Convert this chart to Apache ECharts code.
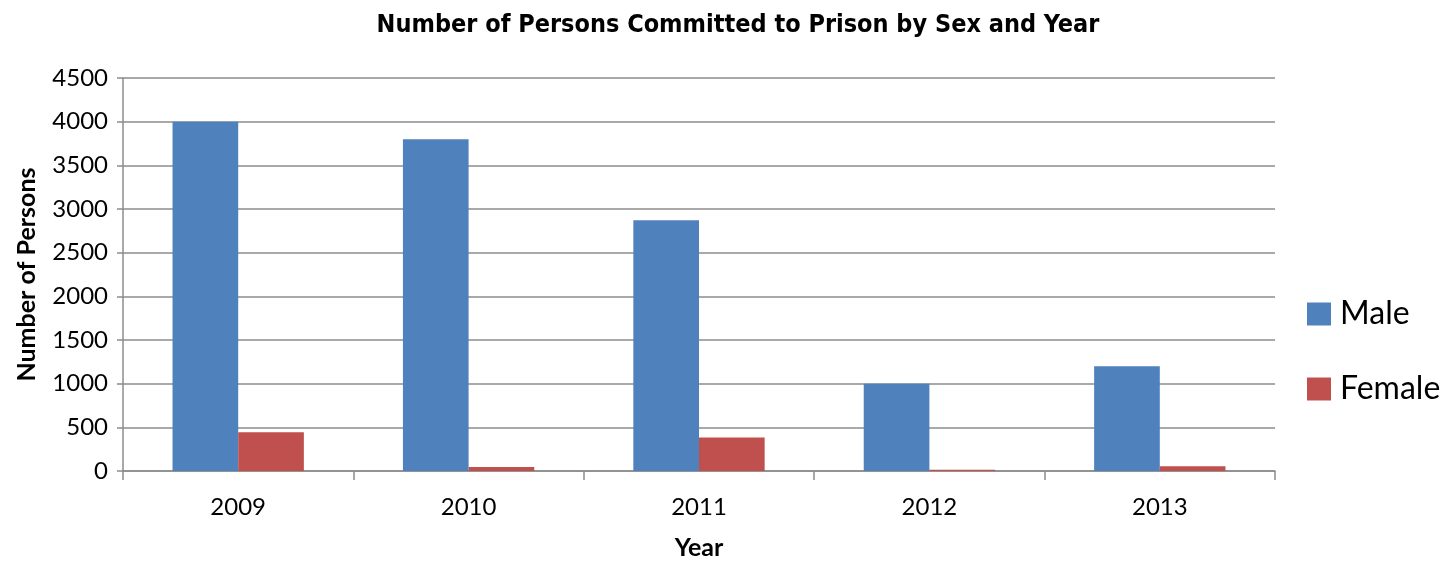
<!DOCTYPE html>
<html><head><meta charset="utf-8">
<script src="https://cdn.jsdelivr.net/npm/echarts@6/dist/echarts.min.js"></script>
<style>html,body{margin:0;padding:0;background:#fff}#c{width:1452px;height:565px}</style>
</head><body><div id="c"></div>
<script>
const years = ['2009','2010','2011','2012','2013'];
const male = [4000, 3800, 2870, 1000, 1200];
const female = [445, 45, 385, 15, 55];
const yTicks = {min: 0, max: 4500, interval: 500};

const chart = echarts.init(document.getElementById('c'));
const lab = 'Lato, "Open Sans", sans-serif';
chart.setOption({
  animation: false,
  backgroundColor: '#fff',
  title: {
    text: 'Number of Persons Committed to Prison by Sex and Year',
    left: 733, top: 8, textAlign: 'center',
    textStyle: {fontFamily: '"Liberation Sans Narrow", "DejaVu Sans Condensed", sans-serif', fontWeight: 'bold', fontSize: 25, color: '#000'}
  },
  grid: {left: 123, right: 177, top: 78, bottom: 90},
  legend: {
    orient: 'vertical', left: 1302, top: 293, itemWidth: 24, itemHeight: 23, itemGap: 43,
    icon: 'rect',
    textStyle: {fontFamily: lab, fontSize: 32, color: '#000', padding: [0,0,0,4]},
    data: ['Male', 'Female']
  },
  xAxis: {
    type: 'category', data: years,
    name: 'Year', nameLocation: 'middle', nameGap: 64,
    nameTextStyle: {fontFamily: lab, fontWeight: 'bold', fontSize: 25, color: '#000'},
    axisLine: {lineStyle: {color: '#8c8c8c', width: 1.5}},
    axisTick: {show: true, length: 9, alignWithLabel: false, lineStyle: {color: '#8c8c8c', width: 1.5}},
    axisLabel: {fontFamily: lab, fontSize: 24, color: '#000', margin: 24}
  },
  yAxis: {
    type: 'value', min: yTicks.min, max: yTicks.max, interval: yTicks.interval,
    name: 'Number of Persons', nameLocation: 'middle', nameGap: 84, nameRotate: 90,
    nameTextStyle: {fontFamily: lab, fontWeight: 'bold', fontSize: 25, color: '#000'},
    axisLine: {show: true, lineStyle: {color: '#8c8c8c', width: 1.5}},
    axisTick: {show: true, length: 6, lineStyle: {color: '#8c8c8c', width: 1.5}},
    axisLabel: {fontFamily: lab, fontSize: 24, color: '#000', margin: 15, formatter: v => String(v)},
    splitLine: {lineStyle: {color: '#8c8c8c', width: 1.5}}
  },
  series: [
    {name: 'Male', type: 'bar', data: male, itemStyle: {color: '#4F81BD'}, barGap: '0%', barCategoryGap: '43%'},
    {name: 'Female', type: 'bar', data: female, itemStyle: {color: '#C0504D'}, barGap: '0%', barCategoryGap: '43%'}
  ]
});
</script></body></html>
